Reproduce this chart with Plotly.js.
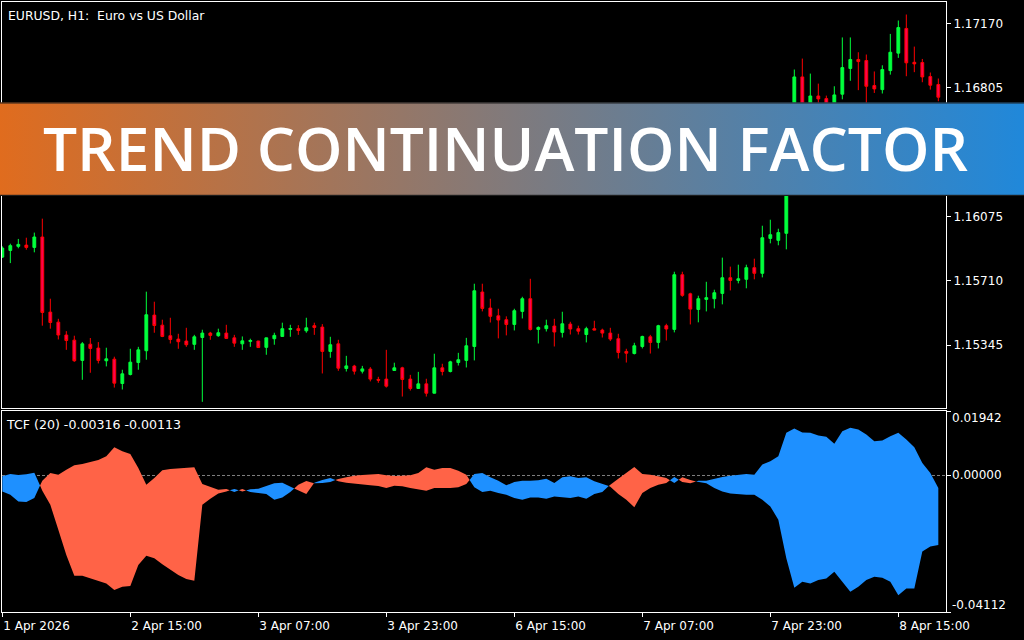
<!DOCTYPE html>
<html><head><meta charset="utf-8">
<script src="https://cdn.plot.ly/plotly-3.0.1.min.js"></script>
<style>html,body{margin:0;padding:0;background:#000;}#chart{width:1024px;height:640px;}</style>
</head><body><div id="chart"></div>
<script>
// ---------- data (EURUSD H1, from 1 Apr 23:00 to 8 Apr 20:00) ----------
const open = [1.15845,1.15883,1.15906,1.15913,1.15900,1.15959,1.15533,1.15476,1.15403,1.15374,
1.15259,1.15351,1.15329,1.15257,1.15266,1.15128,1.15179,1.15247,1.15314,1.15516,
1.15459,1.15399,1.15380,1.15369,1.15350,1.15389,1.15414,1.15399,1.15414,1.15387,
1.15353,1.15367,1.15369,1.15333,1.15382,1.15395,1.15435,1.15439,1.15427,1.15456,
1.15448,1.15310,1.15353,1.15213,1.15227,1.15198,1.15210,1.15151,1.15153,1.15202,
1.15217,1.15153,1.15100,1.15126,1.15073,1.15217,1.15196,1.15247,1.15259,1.15338,
1.15647,1.15556,1.15512,1.15490,1.15463,1.15537,1.15609,1.15435,1.15439,1.15454,
1.15418,1.15465,1.15439,1.15406,1.15439,1.15431,1.15414,1.15382,1.15310,1.15298,
1.15338,1.15393,1.15361,1.15456,1.15435,1.15745,1.15637,1.15548,1.15605,1.15609,
1.15639,1.15728,1.15713,1.15719,1.15785,1.15753,1.15951,1.15940,1.15980,1.16625,
1.16867,1.16693,1.16759,1.16744,1.16690,1.16769,1.16915,1.16966,1.16960,1.16818,
1.16795,1.16903,1.17002,1.17142,1.16950,1.16949,1.16869,1.16824];
const high = [1.15906,1.15921,1.15948,1.15955,1.15984,1.16063,1.15609,1.15495,1.15425,1.15399,
1.15363,1.15386,1.15363,1.15331,1.15280,1.15206,1.15325,1.15336,1.15649,1.15592,
1.15490,1.15501,1.15410,1.15444,1.15404,1.15433,1.15421,1.15439,1.15461,1.15404,
1.15395,1.15382,1.15370,1.15388,1.15416,1.15473,1.15461,1.15459,1.15501,1.15473,
1.15465,1.15393,1.15376,1.15285,1.15234,1.15228,1.15221,1.15166,1.15319,1.15246,
1.15223,1.15177,1.15194,1.15155,1.15297,1.15240,1.15257,1.15302,1.15387,1.15694,
1.15694,1.15609,1.15552,1.15509,1.15552,1.15620,1.15722,1.15452,1.15490,1.15495,
1.15535,1.15478,1.15456,1.15450,1.15484,1.15439,1.15444,1.15410,1.15325,1.15359,
1.15399,1.15404,1.15461,1.15467,1.15762,1.15762,1.15643,1.15626,1.15705,1.15660,
1.15842,1.15791,1.15802,1.15802,1.15836,1.16023,1.16057,1.16006,1.16640,1.16909,
1.16971,1.16886,1.16829,1.16761,1.16814,1.17091,1.17091,1.17007,1.16994,1.16898,
1.16933,1.17111,1.17187,1.17221,1.17039,1.16969,1.16892,1.16858];
const low = [1.15840,1.15811,1.15895,1.15887,1.15872,1.15456,1.15439,1.15378,1.15319,1.15251,
1.15149,1.15189,1.15242,1.15225,1.15105,1.15094,1.15174,1.15206,1.15263,1.15416,
1.15391,1.15355,1.15325,1.15336,1.15319,1.15024,1.15376,1.15393,1.15382,1.15336,
1.15319,1.15336,1.15331,1.15291,1.15348,1.15394,1.15393,1.15404,1.15416,1.15404,
1.15185,1.15274,1.15200,1.15196,1.15179,1.15185,1.15140,1.15132,1.15105,1.15201,
1.15054,1.15088,1.15099,1.15054,1.15072,1.15174,1.15191,1.15230,1.15219,1.15259,
1.15537,1.15474,1.15384,1.15401,1.15429,1.15497,1.15429,1.15355,1.15423,1.15338,
1.15389,1.15406,1.15406,1.15361,1.15430,1.15389,1.15369,1.15270,1.15247,1.15293,
1.15327,1.15298,1.15327,1.15372,1.15418,1.15620,1.15463,1.15475,1.15537,1.15554,
1.15577,1.15656,1.15696,1.15668,1.15719,1.15730,1.15923,1.15912,1.15889,1.16600,
1.16670,1.16680,1.16700,1.16660,1.16670,1.16740,1.16845,1.16792,1.16682,1.16776,
1.16773,1.16880,1.16975,1.16871,1.16894,1.16837,1.16795,1.16729];
const close = [1.15896,1.15910,1.15917,1.15900,1.15959,1.15531,1.15474,1.15403,1.15372,1.15257,
1.15353,1.15327,1.15259,1.15268,1.15130,1.15183,1.15249,1.15319,1.15518,1.15457,
1.15395,1.15378,1.15365,1.15348,1.15393,1.15414,1.15401,1.15416,1.15384,1.15357,
1.15370,1.15372,1.15332,1.15387,1.15401,1.15439,1.15440,1.15429,1.15444,1.15446,
1.15310,1.15348,1.15215,1.15228,1.15198,1.15211,1.15153,1.15147,1.15113,1.15217,
1.15151,1.15100,1.15126,1.15073,1.15217,1.15196,1.15251,1.15263,1.15342,1.15654,
1.15554,1.15509,1.15488,1.15463,1.15541,1.15609,1.15435,1.15446,1.15456,1.15420,
1.15467,1.15437,1.15425,1.15439,1.15431,1.15414,1.15380,1.15304,1.15300,1.15342,
1.15395,1.15361,1.15456,1.15437,1.15745,1.15628,1.15550,1.15609,1.15615,1.15643,
1.15728,1.15713,1.15722,1.15785,1.15753,1.15955,1.15972,1.15984,1.16625,1.16867,
1.16693,1.16759,1.16742,1.16690,1.16765,1.16920,1.16966,1.16954,1.16814,1.16799,
1.16909,1.17007,1.17147,1.16947,1.16941,1.16867,1.16820,1.16752];

// TCF(20) two buffers: blue filling where tcfA > tcfB, tomato where tcfA < tcfB
const tcfA = [-0.00025,0.00045,0.00015,0.00035,0.00086,-0.00459,-0.00882,-0.01638,-0.02394,-0.03019,
-0.03019,-0.03100,-0.03170,-0.03251,-0.03452,-0.03352,-0.03331,-0.02696,-0.02414,-0.02495,
-0.02676,-0.02848,-0.02999,-0.03120,-0.03170,-0.00882,-0.00701,-0.00539,-0.00479,-0.00408,
-0.00479,-0.00418,-0.00398,-0.00328,-0.00237,-0.00217,-0.00328,-0.00459,-0.00559,-0.00217,
-0.00136,-0.00076,-0.00176,-0.00217,-0.00247,-0.00277,-0.00297,-0.00318,-0.00378,-0.00307,
-0.00328,-0.00378,-0.00428,-0.00459,-0.00378,-0.00378,-0.00378,-0.00358,-0.00257,0.00045,
0.00076,-0.00055,-0.00156,-0.00297,-0.00197,-0.00156,-0.00156,-0.00146,-0.00096,-0.00227,
-0.00055,-0.00025,-0.00076,-0.00055,-0.00176,-0.00247,-0.00338,-0.00559,-0.00731,-0.00953,
-0.00529,-0.00378,-0.00277,-0.00227,-0.00045,-0.00197,-0.00237,-0.00156,-0.00156,-0.00096,
-0.00045,-0.00005,0.00015,0.00045,0.00025,0.00328,0.00428,0.00580,0.01285,0.01416,
0.01295,0.01285,0.01205,0.01164,0.00953,0.01336,0.01436,0.01386,0.01235,0.01033,
0.01053,0.01184,0.01285,0.01084,0.00852,0.00378,0.00076,-0.00378];
const tcfB = [-0.00479,-0.00580,-0.00781,-0.00801,-0.00680,-0.00156,0.00076,0.00025,0.00176,0.00307,
0.00348,0.00408,0.00469,0.00580,0.00852,0.00731,0.00650,0.00227,-0.00277,-0.00076,
0.00156,0.00197,0.00217,0.00227,0.00247,-0.00257,-0.00338,-0.00428,-0.00408,-0.00499,
-0.00408,-0.00499,-0.00529,-0.00559,-0.00731,-0.00660,-0.00499,-0.00277,-0.00166,-0.00237,
-0.00227,-0.00197,-0.00106,-0.00055,-0.00005,0.00015,0.00025,0.00045,0.00005,-0.00015,
-0.00005,0.00005,0.00076,0.00247,0.00176,0.00227,0.00227,0.00146,0.00025,-0.00358,
-0.00499,-0.00459,-0.00529,-0.00580,-0.00680,-0.00731,-0.00660,-0.00660,-0.00701,-0.00630,
-0.00660,-0.00680,-0.00630,-0.00701,-0.00559,-0.00499,-0.00277,-0.00096,0.00076,0.00257,
0.00045,0.00025,-0.00025,-0.00076,-0.00227,-0.00055,-0.00136,-0.00197,-0.00237,-0.00378,
-0.00479,-0.00539,-0.00559,-0.00580,-0.00580,-0.00731,-0.00932,-0.01336,-0.02495,-0.03382,
-0.03200,-0.03251,-0.03150,-0.03100,-0.02898,-0.03200,-0.03503,-0.03352,-0.03150,-0.03049,
-0.03079,-0.03200,-0.03604,-0.03402,-0.03402,-0.02293,-0.02142,-0.02092];

const timeTickIdx  = [0, 16, 32, 48, 64, 80, 96, 112];
const timeTickText = ['1 Apr 2026','2 Apr 15:00','3 Apr 07:00','3 Apr 23:00','6 Apr 15:00','7 Apr 07:00','7 Apr 23:00','8 Apr 15:00'];
const priceTicks = [1.15345, 1.15710, 1.16075, 1.16805, 1.17170];
const tcfTicks = [0.01942, 0.00000, -0.04112];
const tcfTickText = ['0.01942', '0.00000', '-0.04112'];
const symbolTitle = 'EURUSD, H1:\u00a0 Euro vs US Dollar';
const tcfTitle = 'TCF (20) -0.00316 -0.00113';
const bannerText = 'TREND CONTINUATION FACTOR';

// ---------- build ----------
const barIndex = open.map((_, i) => i);

function fillPolys(a, b) {
  const out = { up: { x: [], y: [] }, dn: { x: [], y: [] } };
  let run = null;
  const flush = () => {
    if (!run) return;
    const t = out[run.key];
    const xs = run.top.map(p => p[0]).concat(run.bot.map(p => p[0]).reverse());
    const ys = run.top.map(p => p[1]).concat(run.bot.map(p => p[1]).reverse());
    if (t.x.length) { t.x.push(null); t.y.push(null); }
    t.x.push(...xs); t.y.push(...ys);
    run = null;
  };
  for (let i = 0; i < a.length; i++) {
    const d = a[i] - b[i];
    const key = d >= 0 ? 'up' : 'dn';
    if (i > 0) {
      const dp = a[i - 1] - b[i - 1];
      if ((dp >= 0) !== (d >= 0)) {
        const t = dp / (dp - d);
        const xc = barIndex[i - 1] + t * (barIndex[i] - barIndex[i - 1]);
        const yc = a[i - 1] + t * (a[i] - a[i - 1]);
        run.top.push([xc, yc]); run.bot.push([xc, yc]);
        flush();
        run = { key, top: [[xc, yc]], bot: [[xc, yc]] };
      }
    }
    if (!run) run = { key, top: [], bot: [] };
    run.top.push([barIndex[i], Math.max(a[i], b[i])]);
    run.bot.push([barIndex[i], Math.min(a[i], b[i])]);
  }
  flush();
  return out;
}
const fills = fillPolys(tcfA, tcfB);

const xRange = [-0.04, 117.96];
const FONT = 'DejaVu Sans';

const traces = [
  {
    type: 'candlestick', x: barIndex, open: open, high: high, low: low, close: close,
    xaxis: 'x', yaxis: 'y', whiskerwidth: 0, hoverinfo: 'skip',
    increasing: { line: { color: '#00ff3c', width: 1 }, fillcolor: '#00ff3c' },
    decreasing: { line: { color: '#ff0000', width: 1 }, fillcolor: '#ff0050' }
  },
  {
    type: 'scatter', mode: 'lines', x: fills.up.x, y: fills.up.y, xaxis: 'x2', yaxis: 'y2',
    fill: 'toself', fillcolor: '#1e90ff', line: { width: 0, color: '#1e90ff' },
    connectgaps: false, hoverinfo: 'skip'
  },
  {
    type: 'scatter', mode: 'lines', x: fills.dn.x, y: fills.dn.y, xaxis: 'x2', yaxis: 'y2',
    fill: 'toself', fillcolor: '#ff6347', line: { width: 0, color: '#ff6347' },
    connectgaps: false, hoverinfo: 'skip'
  }
];

const bannerSvg = "<svg xmlns='http://www.w3.org/2000/svg' width='1024' height='94' viewBox='0 0 1024 94' preserveAspectRatio='none'>" +
  "<defs><linearGradient id='g' x1='0' y1='0' x2='1' y2='0'>" +
  "<stop offset='0' stop-color='#e06c1e'/><stop offset='1' stop-color='#2088da'/></linearGradient></defs>" +
  "<rect width='1024' height='94' fill='url(#g)'/>" +
  "<rect width='1024' height='1.2' fill='#1c1c1c'/><rect y='92.8' width='1024' height='1.2' fill='#1c1c1c'/></svg>";

const axisLine = { showline: true, linecolor: '#ffffff', linewidth: 1, mirror: true, showgrid: false, zeroline: false, fixedrange: true };

const annotations = [
  { xref: 'paper', yref: 'paper', x: 0, y: 1, xanchor: 'left', yanchor: 'top', xshift: 4, yshift: -4,
    text: symbolTitle, showarrow: false, font: { family: FONT, size: 12.4, color: '#ffffff' } },
  { xref: 'paper', yref: 'paper', x: 0, y: 0.3295, xanchor: 'left', yanchor: 'top', xshift: 2, yshift: -4,
    text: tcfTitle, showarrow: false, font: { family: FONT, size: 12.6, color: '#ffffff' } },
  { xref: 'paper', yref: 'paper', x: 0.5334, y: 0.7621, xanchor: 'center', yanchor: 'middle',
    text: bannerText, showarrow: false, font: { family: 'Open Sans', size: 60.4, weight: 600, color: '#ffffff' } }
];
const tcfShift = [-7, 0, 7];
tcfTicks.forEach((v, k) => annotations.push({
  xref: 'paper', yref: 'y2', x: 1, y: v, xanchor: 'left', yanchor: 'middle', xshift: 4, yshift: tcfShift[k],
  text: tcfTickText[k], showarrow: false, font: { family: FONT, size: 12, color: '#ffffff' }
}));

const layout = {
  width: 1024, height: 640,
  margin: { l: 2, r: 78, t: 2, b: 28, pad: 0 },
  paper_bgcolor: '#000000', plot_bgcolor: '#000000',
  font: { family: FONT, size: 12, color: '#ffffff' },
  showlegend: false, boxgap: 0.5,
  xaxis: Object.assign({}, axisLine, { anchor: 'y', range: xRange, showticklabels: false, ticks: '', rangeslider: { visible: false } }),
  xaxis2: Object.assign({}, axisLine, { anchor: 'y2', range: xRange, matches: 'x', tickmode: 'array', tickvals: timeTickIdx, ticktext: timeTickText,
    ticks: 'outside', ticklen: 4, tickcolor: '#ffffff', ticklabelposition: 'outside right', ticklabelstandoff: 3,
    tickfont: { family: FONT, size: 12, color: '#ffffff' }, rangeslider: { visible: false } }),
  yaxis: Object.assign({}, axisLine, { domain: [0.3344, 1], anchor: 'x', side: 'right', range: [1.14989, 1.17292],
    tickmode: 'array', tickvals: priceTicks, ticktext: priceTicks.map(v => v.toFixed(5)),
    ticks: 'outside', ticklen: 4, tickcolor: '#ffffff', tickfont: { family: FONT, size: 12, color: '#ffffff' } }),
  yaxis2: Object.assign({}, axisLine, { domain: [0, 0.3295], anchor: 'x2', side: 'right', range: [-0.04112, 0.01942],
    tickmode: 'array', tickvals: tcfTicks, showticklabels: false, ticks: 'outside', ticklen: 4, tickcolor: '#ffffff' }),
  shapes: [
    { type: 'line', xref: 'x2', yref: 'y2', x0: xRange[0], x1: xRange[1], y0: 0, y1: 0, layer: 'below',
      line: { color: '#808080', width: 1, dash: '3px,2px' } }
  ],
  images: [
    { source: 'data:image/svg+xml;charset=utf-8,' + encodeURIComponent(bannerSvg),
      xref: 'paper', yref: 'paper', x: -2 / 944, y: 0.8356, sizex: 1024 / 944, sizey: 0.1536,
      xanchor: 'left', yanchor: 'top', sizing: 'stretch', layer: 'above' }
  ],
  annotations: annotations
};

Plotly.newPlot('chart', traces, layout, { staticPlot: true, displayModeBar: false });
</script>
</body></html>
